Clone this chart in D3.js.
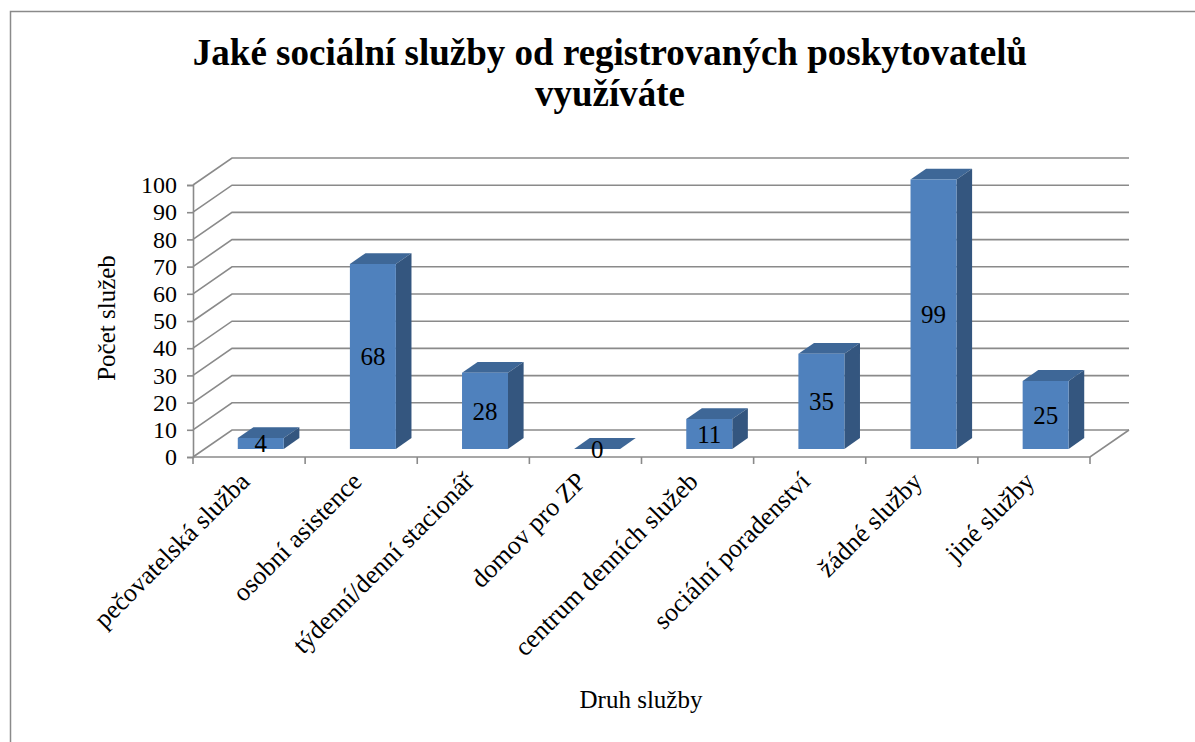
<!DOCTYPE html>
<html>
<head>
<meta charset="utf-8">
<script src="https://cdn.jsdelivr.net/npm/d3@7"></script>
<style>
  body { margin: 0; background: #fff; }
  text { font-family: "Liberation Serif", "Times New Roman", serif; fill: #000; }
</style>
</head>
<body>
<div id="chart"></div>
<script>
var categories = ['pečovatelská služba', 'osobní asistence', 'týdenní/denní stacionář',
    'domov pro ZP', 'centrum denních služeb', 'sociální poradenství', 'žádné služby', 'jiné služby'];
var values = [4, 68, 28, 0, 11, 35, 99, 25];
var yTicks = [0, 10, 20, 30, 40, 50, 60, 70, 80, 90, 100];

var titleLines = ['Jaké sociální služby od registrovaných poskytovatelů', 'využíváte'];
var yTitle = 'Počet služeb',
    xTitle = 'Druh služby';

var pic_width = 1195,
    pic_height = 742;

var frontColor = '#4F81BD', // bar colours
    sideColor = '#34567F',
    topColor = '#3E6797',
    gridColor = '#8a8a8a';

// depth of the 3d box: back wall is this far right/up of the front plane
var DX = 39, DY = 27;

var xScale = d3.scaleBand().domain(categories).range([193, 1090]);
var yScale = d3.scaleLinear().domain([0, 100]).range([457, 185]);

// project a point (x on front plane, value, depth 0..1) to screen
function proj(x, v, d) {
    return [x + d * DX, yScale(v) - d * DY];
}

var svg = d3.select('#chart').append('svg')
    .attr('width', pic_width)
    .attr('height', pic_height);

// outer frame
svg.append('rect')
    .attr('x', 10.5).attr('y', 11.5)
    .attr('width', 1300).attr('height', 900)
    .attr('fill', 'none')
    .attr('stroke', '#8a8a8a')
    .attr('stroke-width', 1.5);

var grid = svg.append('g')
    .attr('stroke', gridColor)
    .attr('stroke-width', 1.6)
    .attr('fill', 'none');

var x0 = xScale.range()[0], x1 = xScale.range()[1];

// back wall and left wall lines
yTicks.forEach(function(v) {
    var a = proj(x0, v, 0), b = proj(x0, v, 1), c = proj(x1, v, 1);
    grid.append('polyline').attr('points', [a, b, c].map(String).join(' '));
});

// floor front and right edges
grid.append('polyline')
    .attr('points', [proj(x0, 0, 0), proj(x1, 0, 0), proj(x1, 0, 1)].map(String).join(' '));

// y axis line and ticks
var yAxis = d3.axisLeft(yScale).tickValues(yTicks).tickSize(6).tickPadding(10);
var gy = svg.append('g')
    .attr('transform', 'translate(' + x0 + ',0)')
    .call(yAxis)
    .attr('font-family', null)
    .attr('font-size', null);
gy.select('.domain').attr('stroke', gridColor).attr('stroke-width', 1.6);
gy.selectAll('.tick line').attr('stroke', gridColor).attr('stroke-width', 1.6);
gy.selectAll('.tick text')
    .style('font-size', '24px')
    .attr('fill', '#000');

// x axis ticks at category boundaries
var bounds = categories.map(function(c) { return xScale(c); }).concat([x1]);
svg.append('g').selectAll('line').data(bounds)
    .enter().append('line')
    .attr('x1', function(d) { return d; })
    .attr('x2', function(d) { return d; })
    .attr('y1', yScale(0))
    .attr('y2', yScale(0) + 7)
    .attr('stroke', gridColor)
    .attr('stroke-width', 1.6);

// bars
var bw = xScale.bandwidth() * 0.41,
    d0 = 0.3, d1 = 0.7;

var bars = svg.append('g').selectAll('g').data(values)
    .enter().append('g');

function leftX(i) {
    return xScale(categories[i]) + (xScale.bandwidth() - bw) / 2;
}

bars.append('polygon') // top
    .attr('fill', topColor)
    .attr('points', function(d, i) {
        var l = leftX(i), r = l + bw;
        return [proj(l, d, d0), proj(r, d, d0), proj(r, d, d1), proj(l, d, d1)].map(String).join(' ');
    });
bars.append('polygon') // right side
    .attr('fill', sideColor)
    .attr('points', function(d, i) {
        var r = leftX(i) + bw;
        return [proj(r, 0, d0), proj(r, d, d0), proj(r, d, d1), proj(r, 0, d1)].map(String).join(' ');
    });
bars.append('polygon') // front
    .attr('fill', frontColor)
    .attr('points', function(d, i) {
        var l = leftX(i), r = l + bw;
        return [proj(l, 0, d0), proj(r, 0, d0), proj(r, d, d0), proj(l, d, d0)].map(String).join(' ');
    });

// value labels in the middle of the front face
bars.append('text')
    .attr('x', function(d, i) { return proj(leftX(i) + bw / 2, 0, d0)[0]; })
    .attr('y', function(d) { return (proj(0, 0, d0)[1] + proj(0, d, d0)[1]) / 2; })
    .attr('dy', '0.35em')
    .attr('text-anchor', 'middle')
    .style('font-size', '25px')
    .text(function(d) { return d; });

// category labels, rotated
svg.append('g').selectAll('text').data(categories)
    .enter().append('text')
    .attr('text-anchor', 'end')
    .style('font-size', '26px')
    .attr('transform', function(d) {
        var cx = xScale(d) + xScale.bandwidth() / 2 + 2;
        return 'translate(' + cx + ',' + (yScale(0) + 26) + ') rotate(-45)';
    })
    .text(function(d) { return d; });

// title
svg.append('text')
    .attr('x', 610)
    .attr('y', 65)
    .attr('text-anchor', 'middle')
    .style('font-size', '37px')
    .style('font-weight', 'bold')
    .selectAll('tspan').data(titleLines)
    .enter().append('tspan')
    .attr('x', 610)
    .attr('dy', function(d, i) { return i ? 41 : 0; })
    .text(function(d) { return d; });

// axis titles
svg.append('text')
    .attr('transform', 'translate(115,318) rotate(-90)')
    .attr('text-anchor', 'middle')
    .style('font-size', '25px')
    .text(yTitle);

svg.append('text')
    .attr('x', 641)
    .attr('y', 708)
    .attr('text-anchor', 'middle')
    .style('font-size', '25px')
    .text(xTitle);
</script>
</body>
</html>
